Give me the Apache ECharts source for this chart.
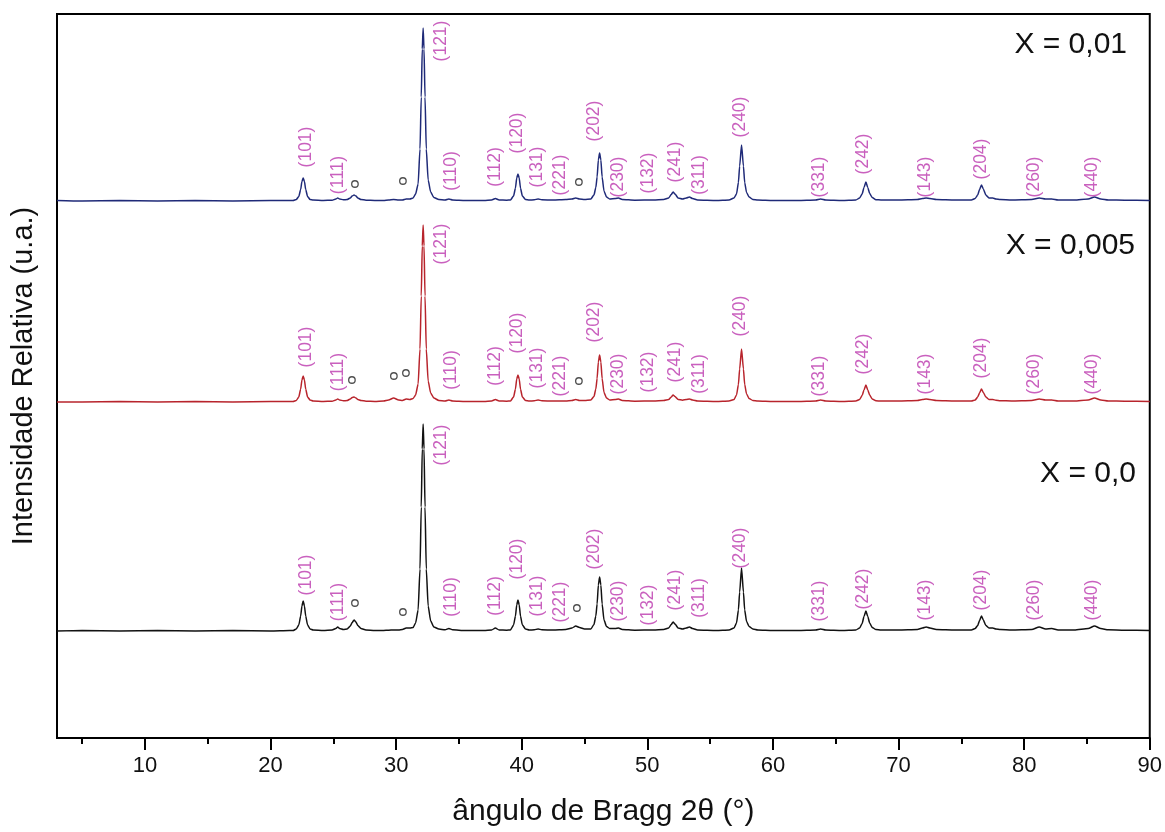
<!DOCTYPE html>
<html>
<head>
<meta charset="utf-8">
<script src="https://cdn.jsdelivr.net/npm/echarts@6/dist/echarts.min.js"></script>
<style>html,body{margin:0;padding:0;background:#fff;}#c{width:1165px;height:832px;}</style>
</head>
<body>
<div id="c"></div>
<script>
// ---- data ----
const twoTheta = [
  3, 5, 8, 11, 14, 17, 20, 21.5,
  21.8, 22.05, 22.25, 22.4, 22.5, 22.6, 22.7, 22.8, 22.95, 23.15, 23.4,
  24.2,
  24.9, 25.2, 25.35, 25.5, 25.8,
  26.1, 26.35, 26.5, 26.65, 26.8, 26.95, 27.2, 27.6,
  28.3, 29.0,
  29.4, 29.8, 30.2,
  30.5, 30.8, 31.1, 31.35,
  31.55, 31.75, 31.9, 32.0, 32.08, 32.15, 32.22, 32.3, 32.4, 32.55, 32.75, 33.0, 33.4,
  33.9, 34.2, 34.5,
  35.5, 37.0, 37.6, 37.9, 38.2, 38.8,
  39.1, 39.35, 39.5, 39.6, 39.7, 39.8, 39.9, 40.05, 40.3, 40.6,
  41.0, 41.3, 41.6,
  42.5, 43.5,
  44.0, 44.3, 44.6, 45.0,
  45.5, 45.75, 45.9, 46.0, 46.1, 46.2, 46.3, 46.4, 46.55, 46.75, 47.0,
  47.45, 47.7, 48.0,
  49, 50.5, 51.3,
  51.7, 51.9, 52.05, 52.2, 52.45, 52.8,
  53.1, 53.35, 53.6, 54.0,
  55.5, 56.5,
  56.9, 57.1, 57.25, 57.35, 57.5, 57.65, 57.75, 57.9, 58.1, 58.4, 58.8,
  60, 62, 63.4, 63.8, 64.2, 65.5,
  66.6, 66.9, 67.1, 67.25, 67.4, 67.55, 67.7, 67.9, 68.2, 68.6,
  70, 71.5, 71.9, 72.2, 72.5, 73, 74.5,
  75.8, 76.1, 76.3, 76.45, 76.6, 76.75, 76.95, 77.2, 77.5, 77.75, 78.1, 79,
  80.6, 81.2, 81.7, 82.2, 82.7, 84, 85.1, 85.6, 86.1, 86.7, 88, 90
];
const intensityX000 = [
  0, 0.5, 0, 0.5, 0, 0.5, 0, 0.5,
  0.5, 2, 6, 15, 25, 30, 25, 15, 6, 2, 1,
  0.5,
  1, 2.5, 4, 2.5, 1.5,
  2, 5, 8.5, 11, 9, 5.5, 2.5, 1,
  0.5, 0.5,
  0.8, 1, 1,
  1.5, 3, 3, 3.5,
  8, 21, 62, 124, 182, 207, 182, 124, 62, 25, 10, 4, 2,
  1.2, 2.5, 1.2,
  0.5, 0.5, 1, 3, 1, 0.8,
  1, 6, 15, 26, 31, 26, 15, 6, 2, 1,
  1.2, 2, 1.2,
  1, 1.5,
  3, 5, 3.5, 2,
  2, 6.5, 15, 27, 46, 54, 46, 27, 11, 4.5, 2.5,
  2.5, 3, 1.5,
  0.8, 1, 1.5,
  3, 6.5, 9, 7, 3, 2,
  3, 4, 2.5, 1,
  0.5, 1,
  3, 8, 21, 39, 63, 39, 21, 9.5, 4.5, 2, 1,
  0.5, 0.5, 1, 2, 1, 0.5,
  1, 3, 7.5, 14.5, 20, 14.5, 8, 3.6, 1.4, 1,
  1, 1.5, 3, 4, 3, 1.5, 1,
  1, 2.5, 5.5, 10.5, 15, 11, 5.5, 3, 3, 2, 1.5, 1,
  1.5, 4, 2, 2.5, 1, 1, 2.5, 5, 2.5, 1.2, 0.8, 0.5
];
const intensityX0005 = [
  0, 0, 0.5, 0, 0.5, 0, 0.5, 0.5,
  0.5, 1.5, 5, 13, 22, 26, 22, 13, 5, 2, 1,
  0.5,
  0.8, 2, 3, 2, 1.2,
  1.5, 3, 4.5, 5, 4, 2.5, 1.5, 0.8,
  0.5, 1,
  2, 4, 2,
  1.5, 3, 2.5, 3.5,
  7, 18, 53, 106, 156, 177, 156, 106, 53, 21, 9, 4, 1.5,
  1, 2, 1,
  0.5, 0.5, 1, 2.5, 1, 0.8,
  1, 5, 13, 23, 27, 23, 13, 5, 1.5, 1,
  1.2, 2, 1.2,
  1, 1,
  1.5, 2.5, 1.5, 1.5,
  2, 5.5, 13, 23.5, 40, 47, 40, 23.5, 9.5, 4, 2,
  2.5, 3, 1.5,
  0.8, 1, 1.5,
  2.5, 5, 7, 5.5, 2.5, 1.8,
  2.5, 3, 2, 1,
  0.5, 1,
  2.5, 7, 17.5, 33, 53, 33, 17.5, 8, 3.5, 1.5, 1,
  0.5, 0.5, 1, 2, 1, 0.5,
  1, 2.5, 6.5, 12, 17, 12, 7, 3, 1.2, 1,
  1, 1.5, 2.5, 3, 2.5, 1.5, 1,
  1, 2, 5, 9, 13, 9.5, 5, 2.5, 2.5, 1.8, 1.3, 1,
  1.5, 3, 2, 2, 1, 1, 2, 4, 2, 1, 0.8, 0.5
];
const intensityX001 = [
  0.5, 0, 0.5, 0, 0.5, 0, 0.5, 0.5,
  0.5, 1.5, 4.5, 11.5, 19.5, 23, 19.5, 11.5, 4.5, 1.5, 1,
  0.5,
  0.8, 2, 3, 2, 1.2,
  1.5, 3, 5, 6, 5, 3, 1.5, 0.8,
  0.5, 0.5,
  1, 1.5, 1,
  1, 2, 2, 3,
  7, 17, 52, 104, 152, 173, 152, 104, 52, 21, 9, 3.5, 1.5,
  1, 2, 1,
  0.5, 0.5, 1, 2.5, 1, 0.8,
  1, 5, 13, 23, 27, 23, 13, 5, 1.5, 1,
  1.2, 2, 1.2,
  1, 1.5,
  2, 3, 2, 1.5,
  2, 6, 13.5, 24, 41, 48, 41, 24, 10, 4, 2,
  2.5, 3, 1.5,
  0.8, 1, 1.5,
  3, 6.5, 9, 7, 3, 2,
  3, 4, 2.5, 1,
  0.5, 1,
  3, 7, 18.5, 35, 56, 35, 18.5, 8.5, 4, 1.5, 1,
  0.5, 0.5, 1, 2, 1, 0.5,
  1, 3, 7, 13.5, 19, 13.5, 7.5, 3.5, 1.3, 1,
  1, 1.5, 2.5, 3, 2.5, 1.5, 1,
  1, 2.5, 6, 11.5, 16, 12, 6, 3, 3, 2, 1.5, 1,
  1.5, 3, 2, 2, 1, 1, 2, 4, 2, 1, 0.8, 0.5
];
// vertical offsets of the stacked patterns (u.a.)
const offsetX000 = 107, offsetX0005 = 336, offsetX001 = 537;

const seriesNames = ['X = 0,0', 'X = 0,005', 'X = 0,01'];

// Miller indices annotations
const hklNames = ['(101)','(111)','(121)','(110)','(112)','(120)','(131)','(221)','(202)','(230)',
                  '(132)','(241)','(311)','(240)','(331)','(242)','(143)','(204)','(260)','(440)'];
const hklAngles = [22.8, 25.4, 33.6, 34.35, 37.85, 39.65, 41.25, 43.05, 45.75, 47.7,
                   50.1, 52.2, 54.1, 57.4, 63.7, 67.2, 72.15, 76.55, 80.8, 85.4];
const hklRiseX000  = [56, 29, 186, 34, 35, 72, 35, 29, 82, 30, 26, 41, 33, 83, 30, 42, 31, 41, 31, 31];
const hklRiseX0005 = [55, 30, 158, 32, 36, 69, 34, 26, 80, 28, 30, 40, 28, 86, 26, 48, 28, 44, 28, 28];
const hklRiseX001  = [54, 26, 160, 30, 34, 68, 34, 26, 80, 24, 28, 39, 26, 84, 24, 47, 24, 42, 24, 24];

// secondary phase marks (°)
const markAnglesX000 = [26.72, 30.54, 44.39];
const markRiseX000 = [28, 19, 23];
const markAnglesX0005 = [26.48, 29.82, 30.78, 44.55];
const markRiseX0005 = [22, 26, 29, 21];
const markAnglesX001 = [26.72, 30.54, 44.55];
const markRiseX001 = [17, 20, 19];

const xTicks = [10, 20, 30, 40, 50, 60, 70, 80, 90];
const xMinorTicks = [5, 15, 25, 35, 45, 55, 65, 75, 85];

// ---- build ----
[intensityX000, intensityX0005, intensityX001].forEach((a, i) => {
  if (a.length !== twoTheta.length) throw new Error('length mismatch in series ' + i + ': ' + a.length + ' vs ' + twoTheta.length);
});
const FONT = "'Liberation Sans', Arial, sans-serif";
const HKL_COLOR = '#bb38ae';
function lineData(ints, off) { return twoTheta.map((x, i) => [x, off + ints[i]]); }
function hklData(rise, off) { return hklNames.map((n, i) => ({ name: n, value: [hklAngles[i], off + rise[i]] })); }
function markData(ang, rise, off) { return ang.map((a, i) => [a, off + rise[i]]); }

const patterns = [
  { ints: intensityX000, off: offsetX000, color: '#111111', rise: hklRiseX000, ma: markAnglesX000, mr: markRiseX000 },
  { ints: intensityX0005, off: offsetX0005, color: '#b8242c', rise: hklRiseX0005, ma: markAnglesX0005, mr: markRiseX0005 },
  { ints: intensityX001, off: offsetX001, color: '#1f2a78', rise: hklRiseX001, ma: markAnglesX001, mr: markRiseX001 }
];

const series = [];
patterns.forEach((p, k) => {
  series.push({
    name: seriesNames[k], type: 'line', data: lineData(p.ints, p.off),
    showSymbol: false, smooth: 0.2, smoothMonotone: 'x',
    lineStyle: { color: p.color, width: 1.5 }, z: 3, silent: true
  });
  series.push({
    type: 'scatter', data: hklData(p.rise, p.off), symbolSize: 1,
    itemStyle: { color: 'rgba(0,0,0,0)' }, silent: true, z: 4,
    label: { show: true, position: 'inside', rotate: 90, formatter: '{b}',
             color: HKL_COLOR, fontSize: 17.5, fontFamily: FONT }
  });
  series.push({
    type: 'scatter', data: markData(p.ma, p.mr, p.off), symbol: 'circle', symbolSize: 6.5,
    itemStyle: { color: '#fff', borderColor: '#222', borderWidth: 1.3 }, silent: true, z: 5
  });
});

const chart = echarts.init(document.getElementById('c'), null, { renderer: 'canvas' });
chart.setOption({
  animation: false,
  backgroundColor: '#fff',
  grid: { left: 57, right: 15, top: 14, bottom: 94, show: true, borderColor: '#000', borderWidth: 2, backgroundColor: 'transparent' },
  xAxis: [{
    type: 'value', min: 3, max: 90,
    name: 'ângulo de Bragg 2θ (°)', nameLocation: 'middle', nameGap: 59,
    nameTextStyle: { fontSize: 30, color: '#111', fontFamily: FONT },
    axisLine: { show: true, lineStyle: { color: '#000', width: 2 } },
    axisTick: { show: true, inside: false, length: 12, lineStyle: { color: '#000', width: 2 }, customValues: xTicks },
    axisLabel: { show: true, customValues: xTicks, fontSize: 22, color: '#111', fontFamily: FONT, margin: 17 },
    splitLine: { show: false }
  }, {
    type: 'value', min: 3, max: 90, position: 'bottom',
    axisLine: { show: false },
    axisTick: { show: true, inside: false, length: 6, lineStyle: { color: '#000', width: 2 }, customValues: xMinorTicks },
    axisLabel: { show: false }, splitLine: { show: false }
  }],
  yAxis: {
    type: 'value', min: 0, max: 724,
    name: 'Intensidade Relativa (u.a.)', nameLocation: 'middle', nameGap: 19,
    nameTextStyle: { fontSize: 29, color: '#111', fontFamily: FONT },
    axisLine: { show: false }, axisTick: { show: false }, axisLabel: { show: false }, splitLine: { show: false }
  },
  graphic: [
    { type: 'text', x: 1127, y: 45, style: { text: seriesNames[2], align: 'right', verticalAlign: 'middle', fontSize: 30, fontFamily: FONT, fill: '#111' } },
    { type: 'text', x: 1135, y: 246, style: { text: seriesNames[1], align: 'right', verticalAlign: 'middle', fontSize: 30, fontFamily: FONT, fill: '#111' } },
    { type: 'text', x: 1136, y: 474, style: { text: seriesNames[0], align: 'right', verticalAlign: 'middle', fontSize: 30, fontFamily: FONT, fill: '#111' } }
  ],
  series: series
});
</script>
</body>
</html>
